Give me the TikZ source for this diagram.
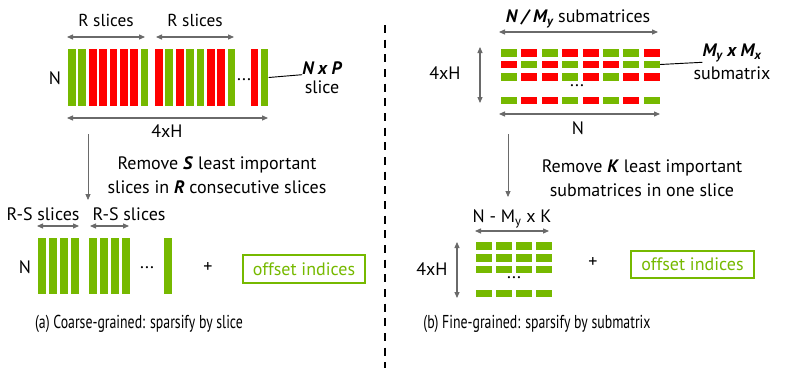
\documentclass[tikz,border=0pt]{standalone}
\usepackage{fontspec}
\setmainfont{PT Sans}
\newfontfamily\capfont[FakeStretch=0.74]{PT Sans}
\usetikzlibrary{arrows.meta}

\definecolor{nvgreen}{HTML}{76B900}
\definecolor{nvred}{HTML}{FF0000}
\definecolor{dimgray}{HTML}{6A6A6A}

\begin{document}
\begin{tikzpicture}[x=0.75pt, y=-0.75pt,
    gbar/.style={rectangle, fill=nvgreen, minimum width=5.8pt, minimum height=42.5pt, inner sep=0pt},
    rbar/.style={gbar, fill=nvred},
    gcell/.style={rectangle, fill=nvgreen, minimum width=12pt, minimum height=5.8pt, inner sep=0pt},
    rcell/.style={gcell, fill=nvred},
    lbl/.style={font=\fontsize{13.5}{15}\selectfont, inner sep=0pt},
    dim/.style={{Triangle[length=4.5pt,width=3.8pt]}-{Triangle[length=4.5pt,width=3.8pt]}, dimgray, line width=0.8pt},
    arr/.style={-{Triangle[length=4.5pt,width=3.8pt]}, dimgray, line width=0.6pt},
    lead/.style={black, line width=0.7pt},
    offs/.style={draw=nvgreen, line width=1.3pt, text=nvgreen, font=\fontsize{13.5}{15}\selectfont, minimum width=92pt, minimum height=20.5pt, inner sep=0pt},
]
\useasboundingbox (0,0) rectangle (789,368);

% === (a) Coarse-grained: original slices ===
\foreach \col [count=\i] in {g,g,r,r,r,r,r,g}
  \node[\col bar] (ta\i) at ({72+10.35*(\i-1)}, 77.5) {};
\foreach \col [count=\i] in {r,g,r,g,g,r,r,g}
  \node[\col bar] (tb\i) at ({159+10.35*(\i-1)}, 77.5) {};
\node[rbar] (tc1) at (254.5, 77.5) {};
\node[gbar] (tc2) at (264.5, 77.5) {};
\node[lbl] (tdots) at (244, 80) {...};

\node[lbl, font=\fontsize{13}{15}\selectfont] (rs1) at (106, 20) {R slices};
\node[lbl, font=\fontsize{13}{15}\selectfont] (rs2) at (195, 20) {R slices};
\coordinate (ra1) at (67, 37);  \coordinate (ra2) at (145, 37);
\coordinate (rb1) at (156, 37); \coordinate (rb2) at (234, 37);
\draw[dim] (ra1) -- (ra2);
\draw[dim] (rb1) -- (rb2);

\node[lbl] (ta) at (55, 78) {N};
\node[lbl, font=\fontsize{13.5}{15}\selectfont\bfseries\itshape] (npa) at (322, 68) {N x P};
\node[lbl] (npb) at (322, 87) {slice};
\draw[lead] (tc2.east) -- (npa.south west);

\coordinate (ha1) at (67, 118); \coordinate (ha2) at (268, 118);
\draw[dim] (ha1) -- (ha2);
\node[lbl] (ha) at (167, 131) {4xH};

% === (a) step ===
\coordinate (da1) at (88, 134); \coordinate (da2) at (88, 200);
\draw[arr] (da1) -- (da2);
\node[lbl, align=center] (remA) at (217, 175) {Remove \textbf{\textit{S}} least important\\[3pt]slices in \textbf{\textit{R}} consecutive slices};

% === (a) pruned slices ===
\foreach \i in {1,...,4}
  \node[gbar] (ba\i) at ({42+11*(\i-1)}, 266) {};
\foreach \i in {1,...,4}
  \node[gbar] (bb\i) at ({93+10.9*(\i-1)}, 266) {};
\node[gbar] (bc1) at (168, 266) {};
\node[lbl] (bdots) at (147, 268) {...};
\node[lbl] (bn) at (25, 267) {N};

\node[lbl] (rsa) at (43, 214) {R-S slices};
\node[lbl] (rsb) at (129, 214) {R-S slices};
\coordinate (sa1) at (37, 226); \coordinate (sa2) at (79, 226);
\coordinate (sb1) at (90, 226); \coordinate (sb2) at (129, 226);
\draw[dim] (sa1) -- (sa2);
\draw[dim] (sb1) -- (sb2);

\node[lbl] (plusA) at (208, 268) {+};
\node[offs] (offA) at (304, 269) {offset indices};

\node[font=\capfont\fontsize{14}{16}\selectfont] (capA) at (139, 324) {(a) Coarse-grained: sparsify by slice};

% === Divider ===
\coordinate (div1) at (385, 25); \coordinate (div2) at (385, 368);
\draw[black, line width=1.6pt, dash pattern=on 6pt off 5pt] (div1) -- (div2);

% === (b) Fine-grained: original submatrices ===
\foreach \yy/\row [count=\j] in {53/{g,r,g,r,r,g,g,r}, 64.5/{r,g,r,g,r,r,g,g}, 77/{g,r,r,g,r,g,r,r}, 100.5/{g,r,r,g,r,g,r,g}}
  \foreach \col [count=\i] in \row
    \node[\col cell] (c\j\i) at ({509+20.4*(\i-1)}, \yy) {};
\node[lbl] (cdots) at (577, 86) {...};

\node[lbl] (sub) at (578, 19) {\textbf{\textit{N / M\textsubscript{y}}} submatrices};
\coordinate (sx1) at (499, 32); \coordinate (sx2) at (658, 32);
\draw[dim] (sx1) -- (sx2);

\coordinate (hv1) at (480, 47); \coordinate (hv2) at (480, 103);
\draw[dim] (hv1) -- (hv2);
\node[lbl] (hb) at (445, 73) {4xH};

\coordinate (nx1) at (499, 114); \coordinate (nx2) at (660, 114);
\draw[dim] (nx1) -- (nx2);
\node[lbl] (nb) at (578, 128) {N};

\node[lbl, font=\fontsize{13.5}{15}\selectfont\bfseries\itshape] (mym) at (732, 53) {M\textsubscript{y} x M\textsubscript{x}};
\node[lbl] (mys) at (732, 73) {submatrix};
\draw[lead] (c28.east) -- (mym.south west);

% === (b) step ===
\coordinate (db1) at (508, 134); \coordinate (db2) at (508, 197);
\draw[arr] (db1) -- (db2);
\node[lbl, align=center] (remB) at (642, 178) {Remove \textbf{\textit{K}} least important\\[3pt]submatrices in one slice};

% === (b) pruned submatrices ===
\foreach \yy [count=\j] in {246, 258, 269.5, 293.5}
  \foreach \i in {1,...,4}
    \node[gcell] (p\j\i) at ({483.5+20.3*(\i-1)}, \yy) {};
\node[lbl] (pdots) at (514, 278) {...};

\node[lbl] (nmk) at (512, 219) {N - M\textsubscript{y} x K};
\coordinate (kx1) at (475, 231); \coordinate (kx2) at (549, 231);
\draw[dim] (kx1) -- (kx2);

\coordinate (kv1) at (457, 242); \coordinate (kv2) at (457, 298);
\draw[dim] (kv1) -- (kv2);
\node[lbl] (kh) at (432, 269) {4xH};

\node[lbl] (plusB) at (593, 263) {+};
\node[offs] (offB) at (692.5, 264.5) {offset indices};

\node[font=\capfont\fontsize{14}{16}\selectfont] (capB) at (537, 324) {(b) Fine-grained: sparsify by submatrix};

\end{tikzpicture}
\end{document}
